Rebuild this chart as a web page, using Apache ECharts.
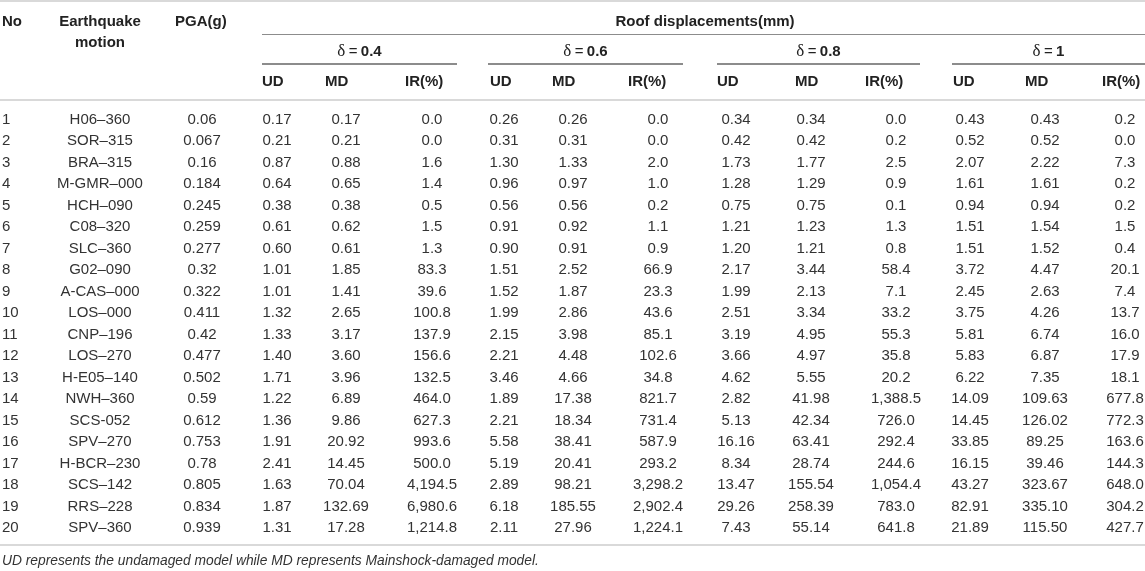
<!DOCTYPE html>
<html>
<head>
<meta charset="utf-8">
<script src="https://cdn.jsdelivr.net/npm/echarts@6/dist/echarts.min.js"></script>
<style>
  html, body { margin: 0; padding: 0; background: #fff; }
  #chart-container { width: 1145px; height: 571px; }
</style>
</head>
<body>
<div id="chart-container"></div>
<script>
// Table values, one array per column
const rowNo = [1, 2, 3, 4, 5, 6, 7, 8, 9, 10, 11, 12, 13, 14, 15, 16, 17, 18, 19, 20];
const motions = ['H06–360', 'SOR–315', 'BRA–315', 'M-GMR–000', 'HCH–090', 'C08–320', 'SLC–360', 'G02–090', 'A-CAS–000', 'LOS–000',
  'CNP–196', 'LOS–270', 'H-E05–140', 'NWH–360', 'SCS-052', 'SPV–270', 'H-BCR–230', 'SCS–142', 'RRS–228', 'SPV–360'];
const pga = [0.06, 0.067, 0.16, 0.184, 0.245, 0.259, 0.277, 0.32, 0.322, 0.411, 0.42, 0.477, 0.502, 0.59, 0.612, 0.753, 0.78, 0.805, 0.834, 0.939];

const deltas = ['0.4', '0.6', '0.8', '1'];

const ud04 = [0.17, 0.21, 0.87, 0.64, 0.38, 0.61, 0.60, 1.01, 1.01, 1.32, 1.33, 1.40, 1.71, 1.22, 1.36, 1.91, 2.41, 1.63, 1.87, 1.31];
const md04 = [0.17, 0.21, 0.88, 0.65, 0.38, 0.62, 0.61, 1.85, 1.41, 2.65, 3.17, 3.60, 3.96, 6.89, 9.86, 20.92, 14.45, 70.04, 132.69, 17.28];
const ir04 = [0.0, 0.0, 1.6, 1.4, 0.5, 1.5, 1.3, 83.3, 39.6, 100.8, 137.9, 156.6, 132.5, 464.0, 627.3, 993.6, 500.0, 4194.5, 6980.6, 1214.8];

const ud06 = [0.26, 0.31, 1.30, 0.96, 0.56, 0.91, 0.90, 1.51, 1.52, 1.99, 2.15, 2.21, 3.46, 1.89, 2.21, 5.58, 5.19, 2.89, 6.18, 2.11];
const md06 = [0.26, 0.31, 1.33, 0.97, 0.56, 0.92, 0.91, 2.52, 1.87, 2.86, 3.98, 4.48, 4.66, 17.38, 18.34, 38.41, 20.41, 98.21, 185.55, 27.96];
const ir06 = [0.0, 0.0, 2.0, 1.0, 0.2, 1.1, 0.9, 66.9, 23.3, 43.6, 85.1, 102.6, 34.8, 821.7, 731.4, 587.9, 293.2, 3298.2, 2902.4, 1224.1];

const ud08 = [0.34, 0.42, 1.73, 1.28, 0.75, 1.21, 1.20, 2.17, 1.99, 2.51, 3.19, 3.66, 4.62, 2.82, 5.13, 16.16, 8.34, 13.47, 29.26, 7.43];
const md08 = [0.34, 0.42, 1.77, 1.29, 0.75, 1.23, 1.21, 3.44, 2.13, 3.34, 4.95, 4.97, 5.55, 41.98, 42.34, 63.41, 28.74, 155.54, 258.39, 55.14];
const ir08 = [0.0, 0.2, 2.5, 0.9, 0.1, 1.3, 0.8, 58.4, 7.1, 33.2, 55.3, 35.8, 20.2, 1388.5, 726.0, 292.4, 244.6, 1054.4, 783.0, 641.8];

const ud10 = [0.43, 0.52, 2.07, 1.61, 0.94, 1.51, 1.51, 3.72, 2.45, 3.75, 5.81, 5.83, 6.22, 14.09, 14.45, 33.85, 16.15, 43.27, 82.91, 21.89];
const md10 = [0.43, 0.52, 2.22, 1.61, 0.94, 1.54, 1.52, 4.47, 2.63, 4.26, 6.74, 6.87, 7.35, 109.63, 126.02, 89.25, 39.46, 323.67, 335.10, 115.50];
const ir10 = [0.2, 0.0, 7.3, 0.2, 0.2, 1.5, 0.4, 20.1, 7.4, 13.7, 16.0, 17.9, 18.1, 677.8, 772.3, 163.6, 144.3, 648.0, 304.2, 427.7];

const footnote = 'UD represents the undamaged model while MD represents Mainshock-damaged model.';

// Layout (pixel columns on the hidden x axis)
const FONT = '"Liberation Sans", Arial, sans-serif';
const groupCols = [[277, 346, 432], [504, 573, 658], [736, 811, 896], [970, 1045, 1125]];
const groupLines = [[262, 457], [488, 683], [717, 920], [952, 1145]];
const headLeft = [[262, 325, 405], [490, 552, 628], [717, 795, 865], [953, 1025, 1102]];

const fmt2 = v => v.toFixed(2);
const fmtIR = v => v.toLocaleString('en-US', { minimumFractionDigits: 1, maximumFractionDigits: 1 });

function textColumn(texts, x, align) {
  return {
    type: 'custom',
    silent: true,
    clip: false,
    data: texts.map((t, i) => [x, i]),
    renderItem: (params, api) => {
      const p = api.coord([api.value(0), api.value(1)]);
      return {
        type: 'text',
        x: p[0],
        y: p[1],
        style: {
          text: texts[params.dataIndex],
          align: align || 'center',
          verticalAlign: 'middle',
          font: '15px ' + FONT,
          fill: '#333'
        }
      };
    }
  };
}

const groups = [[ud04, md04, ir04], [ud06, md06, ir06], [ud08, md08, ir08], [ud10, md10, ir10]];

const series = [
  textColumn(rowNo.map(String), 2, 'left'),
  textColumn(motions, 100),
  textColumn(pga.map(String), 202)
];
groups.forEach((g, gi) => {
  series.push(textColumn(g[0].map(fmt2), groupCols[gi][0]));
  series.push(textColumn(g[1].map(fmt2), groupCols[gi][1]));
  series.push(textColumn(g[2].map(fmtIR), groupCols[gi][2]));
});

// Header texts and rules
function hText(text, x, y, align) {
  return {
    type: 'text', x: x, y: y, silent: true,
    style: { text: text, align: align || 'left', verticalAlign: 'middle', font: 'bold 15px ' + FONT, fill: '#222' }
  };
}
function hLine(x1, x2, y, color, w) {
  return { type: 'line', silent: true, shape: { x1: x1, y1: y, x2: x2, y2: y }, style: { stroke: color, lineWidth: w } };
}

const graphics = [
  hLine(0, 1145, 1, '#d9d9d9', 2),
  hText('No', 2, 22),
  hText('Earthquake', 100, 22, 'center'),
  hText('motion', 100, 43, 'center'),
  hText('PGA(g)', 175, 22),
  hText('Roof displacements(mm)', 705, 22, 'center'),
  hLine(262, 1145, 34.5, '#8c8c8c', 1.2),
  hLine(0, 1145, 100, '#d9d9d9', 2),
  hLine(0, 1145, 545, '#d9d9d9', 2),
  {
    type: 'text', x: 2, y: 561, silent: true,
    style: { text: footnote, align: 'left', verticalAlign: 'middle', font: 'italic 13.8px ' + FONT, fill: '#333' }
  }
];
deltas.forEach((d, gi) => {
  const [a, b] = groupLines[gi];
  graphics.push({
    type: 'text', x: (a + b) / 2, y: 52, silent: true,
    style: {
      text: '{s|δ} {e|=} {n|' + d + '}',
      align: 'center', verticalAlign: 'middle',
      rich: {
        s: { font: '17px "Liberation Serif", serif', fill: '#222' },
        e: { font: '15px ' + FONT, fill: '#222' },
        n: { font: 'bold 15px ' + FONT, fill: '#222' }
      }
    }
  });
  graphics.push(hLine(a, b, 64, '#8c8c8c', 2));
  graphics.push(hText('UD', headLeft[gi][0], 82));
  graphics.push(hText('MD', headLeft[gi][1], 82));
  graphics.push(hText('IR(%)', headLeft[gi][2], 82));
});

const chart = echarts.init(document.getElementById('chart-container'));
chart.setOption({
  animation: false,
  backgroundColor: '#fff',
  grid: { left: 0, right: 0, top: 108.75, height: 430 },
  xAxis: { type: 'value', min: 0, max: 1145, show: false },
  yAxis: { type: 'category', data: rowNo, inverse: true, show: false },
  graphic: graphics,
  series: series
});
</script>
</body>
</html>
